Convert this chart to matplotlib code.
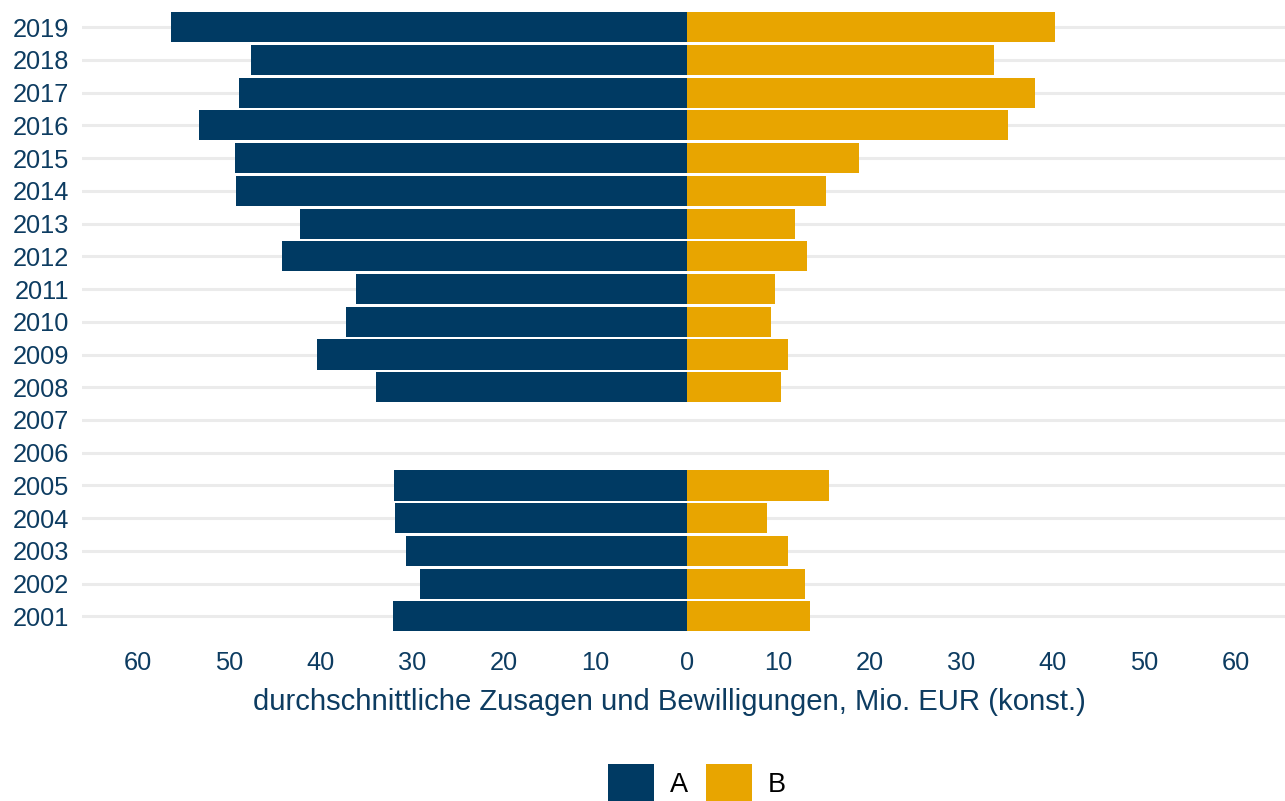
import numpy as np
from matplotlib import pyplot as plt
from matplotlib.patches import Patch

plt.rcParams['font.family'] = ['Liberation Sans', 'DejaVu Sans']

years = [2001, 2002, 2003, 2004, 2005, 2006, 2007, 2008, 2009, 2010,
         2011, 2012, 2013, 2014, 2015, 2016, 2017, 2018, 2019]
# no data for 2006 and 2007
a_values = [32.1, 29.2, 30.7, 31.9, 32.0, np.nan, np.nan, 34.0, 40.4, 37.2,
            36.1, 44.2, 42.3, 49.3, 49.4, 53.3, 48.9, 47.6, 56.4]
b_values = [13.5, 12.9, 11.1, 8.8, 15.6, np.nan, np.nan, 10.3, 11.1, 9.2,
            9.6, 13.2, 11.8, 15.2, 18.8, 35.1, 38.1, 33.6, 40.3]
ticks = [-60, -50, -40, -30, -20, -10, 0, 10, 20, 30, 40, 50, 60]
series = ['A', 'B']

col_a = '#003a63'
col_b = '#e8a500'
txt = '#0d3c61'

fig = plt.figure(figsize=(12.85, 8.01), dpi=100)
ax = fig.add_axes([0.0638, 0.208, 0.9362, 0.7805])

for y in years:
    ax.axhline(y, color='#ebebeb', lw=2.2, zorder=0)

ax.barh(years, -np.array(a_values), height=0.92, color=col_a, zorder=2)
ax.barh(years, b_values, height=0.92, color=col_b, zorder=2)

ax.set_xlim(-66.1, 65.4)
ax.set_ylim(2000.45, 2019.55)
ax.set_xticks(ticks)
ax.set_xticklabels([str(abs(t)) for t in ticks])
ax.set_yticks(years)
ax.set_yticklabels([str(y) for y in years])
ax.tick_params(axis='both', length=0, labelsize=18.3, labelcolor=txt)
ax.tick_params(axis='y', pad=9)
ax.tick_params(axis='x', pad=12)
for s in ax.spines.values():
    s.set_visible(False)

ax.set_xlabel('durchschnittliche Zusagen und Bewilligungen, Mio. EUR (konst.)',
              fontsize=21.1, color=txt)
ax.xaxis.set_label_coords(0.488, -0.085)

handles = [Patch(facecolor=col_a), Patch(facecolor=col_b)]
fig.legend(handles, series, loc='center', bbox_to_anchor=(0.5424, 0.0225),
           ncol=2, frameon=False, fontsize=19.5, handlelength=1.7, handleheight=1.75,
           columnspacing=0.66, handletextpad=0.59)

fig.savefig('out.png', dpi=100)
